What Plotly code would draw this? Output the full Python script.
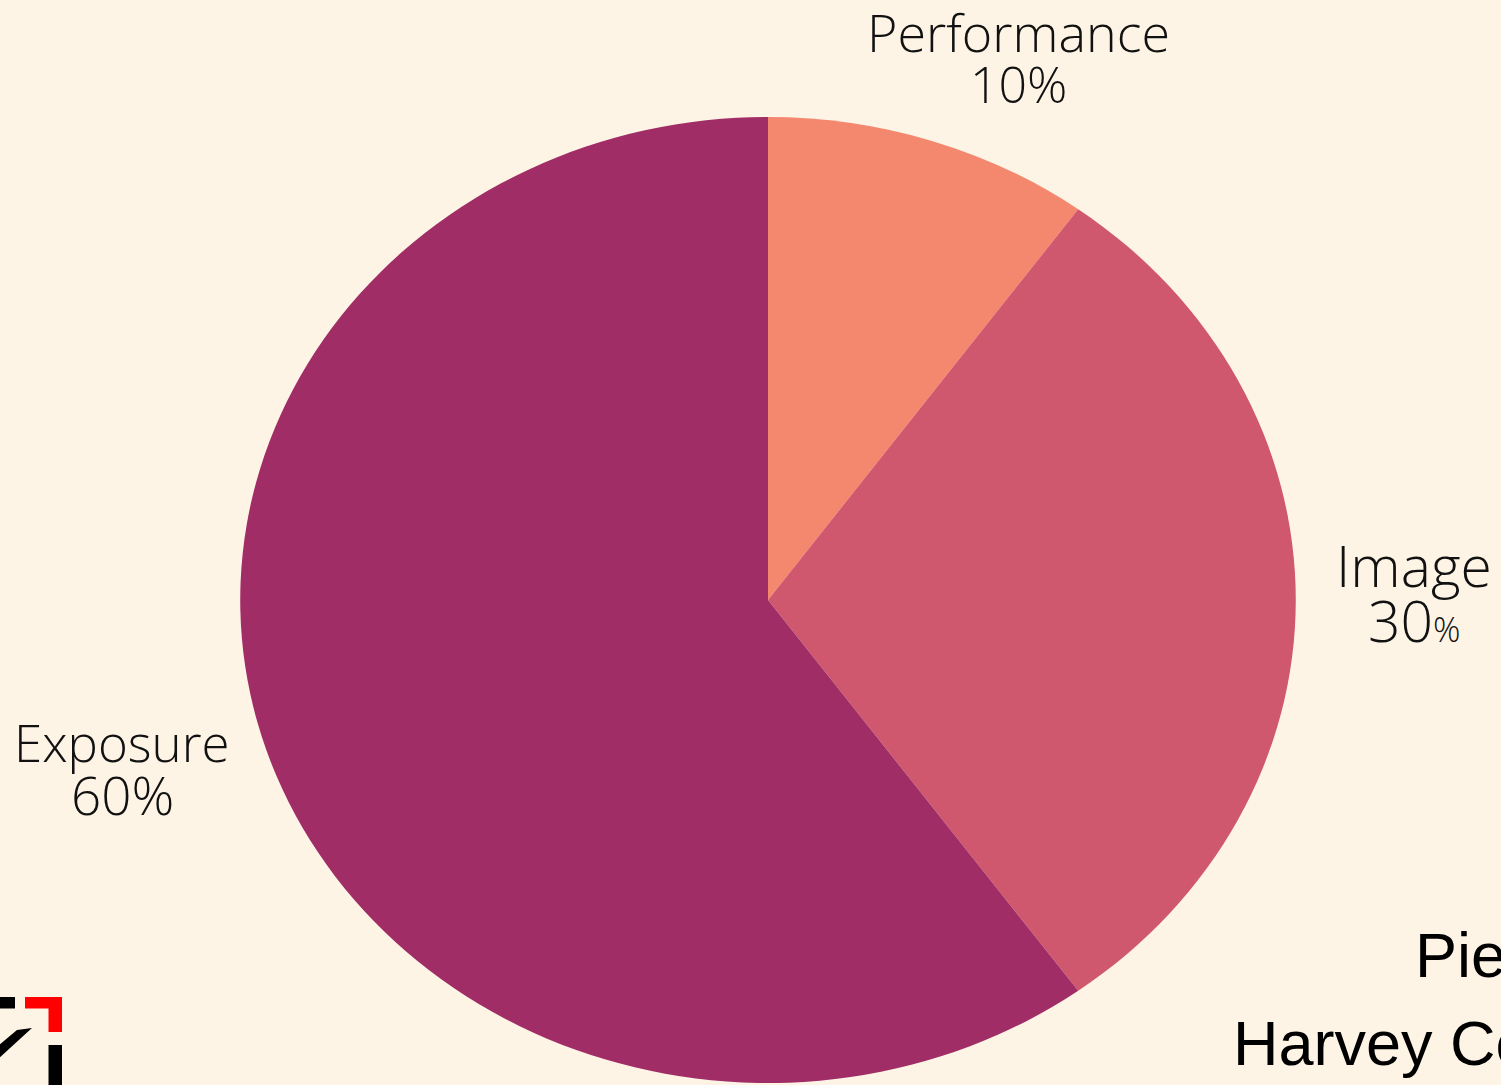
import plotly.graph_objects as go

# ---- data ----
labels = ["Performance", "Image", "Exposure"]
values = [10, 30, 60]
colors = ["#F4886F", "#CF576E", "#A12D67"]
title_lines = ["Pie Chart", "Harvey Cox"]

# ---- layout geometry (pixels) ----
W, H = 1501, 1085
ML, MR, MT, MB = 35, 0, 117, 2
PW, PH = W - ML - MR, H - MT - MB
SX = 1.0927  # horizontal stretch of the pie (ellipse in reference)


def px(x):
    return (x - ML) / PW


def py(y):
    return 1 - (y - MT) / PH


BG = "#FDF4E6"
LBL_FONT = "Open Sans"

fig = go.Figure(
    go.Pie(
        labels=labels,
        values=values,
        marker=dict(colors=colors, line=dict(width=0)),
        sort=False,
        direction="clockwise",
        rotation=0,
        textinfo="none",
        hoverinfo="none",
        showlegend=False,
    )
)

total = sum(values)
pcts = [round(v * 100 / total) for v in values]

# label placements: (center x, baseline name, baseline pct, name size, pct size, small-% size)
label_pos = {
    "Performance": (1018, 52, 103, 52, 50, None),
    "Image": (1414, 587, 642, 57, 57, 34),
    "Exposure": (122, 762, 815, 51, 53, None),
}

annotations = []
for lab, pc in zip(labels, pcts):
    cxp, b1, b2, s1, s2, small = label_pos[lab]
    annotations.append(dict(
        text=lab, x=px(cxp), y=py(b1 - 0.388 * s1), xref="paper", yref="paper",
        xanchor="center", yanchor="middle", showarrow=False,
        font=dict(family=LBL_FONT, size=s1, color="#111111", weight=300),
    ))
    if small:
        ptxt = f"{pc}<span style='font-size:{small}px'>%</span>"
    else:
        ptxt = f"{pc}%"
    annotations.append(dict(
        text=ptxt, x=px(cxp), y=py(b2 - 0.388 * s2), xref="paper", yref="paper",
        xanchor="center", yanchor="middle", showarrow=False,
        font=dict(family=LBL_FONT, size=s2, color="#111111", weight=300),
    ))

# bottom-right title text (cut off by the page edge in the reference)
for txt, left, base in [(title_lines[0], 1413, 977), (title_lines[1], 1231, 1065)]:
    fs = 63
    annotations.append(dict(
        text=txt, x=px(left), y=py(base - 0.3465 * fs), xref="paper", yref="paper",
        xanchor="left", yanchor="middle", showarrow=False,
        font=dict(family="Liberation Sans, Arial", size=fs, color="#000000"),
    ))

# logo at bottom-left (partially cut off)
shapes = []


def rect(x0, y0, x1, y1, color):
    shapes.append(dict(type="rect", xref="paper", yref="paper",
                       x0=px(x0), x1=px(x1), y0=py(y0), y1=py(y1),
                       fillcolor=color, line=dict(width=0), layer="above"))


def poly(pts, color):
    d = "M " + " L ".join(f"{px(a):.5f},{py(b):.5f}" for a, b in pts) + " Z"
    shapes.append(dict(type="path", xref="paper", yref="paper", path=d,
                       fillcolor=color, line=dict(width=0), layer="above"))


rect(-2, 997, 15, 1008.5, "#000000")
rect(25, 997, 62, 1008.5, "#FF0000")
rect(48.5, 997, 62, 1032, "#FF0000")
rect(48.5, 1045, 62, 1090, "#000000")
poly([(-2, 1046), (17, 1030), (32, 1028), (-2, 1059)], "#000000")

fig.update_layout(
    width=W, height=H,
    margin=dict(l=ML, r=MR, t=MT, b=MB, pad=0),
    paper_bgcolor=BG, plot_bgcolor=BG,
    annotations=annotations,
    shapes=shapes,
)

post = """
document.body.style.margin = '0';
document.body.style.padding = '0';
document.documentElement.style.background = '%BG%';
document.body.style.background = '%BG%';
var gd = document.getElementById('{plot_id}');
function stretchPie(){
  var paths = gd.querySelectorAll('.pielayer path.surface');
  var minx = Infinity, maxx = -Infinity;
  paths.forEach(function(p){
    var t = p.getAttribute('data-orig-t');
    if (t !== null) { p.setAttribute('transform', t); }
    var b = p.getBBox();
    minx = Math.min(minx, b.x); maxx = Math.max(maxx, b.x + b.width);
  });
  var cx = (minx + maxx) / 2;
  paths.forEach(function(p){
    var t = p.getAttribute('data-orig-t');
    if (t === null) { t = p.getAttribute('transform') || ''; p.setAttribute('data-orig-t', t); }
    p.setAttribute('transform', 'translate(' + cx + ',0) scale(%SX%,1) translate(' + (-cx) + ',0) ' + t);
  });
}
stretchPie();
""".replace("%SX%", str(SX)).replace("%BG%", BG)

fig.write_html("out.html", post_script=post, config={"displayModeBar": False})
